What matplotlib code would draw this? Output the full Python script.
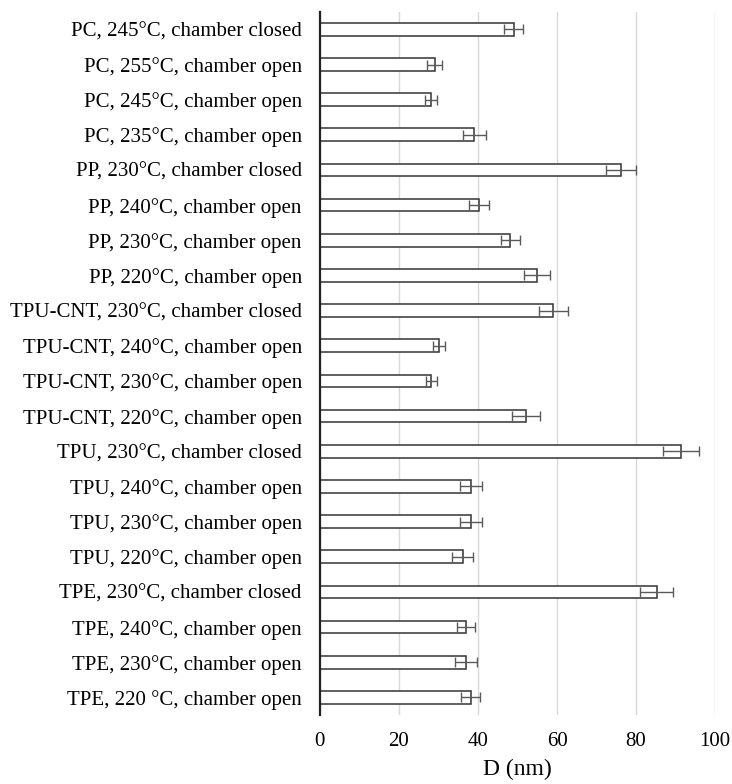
import matplotlib
matplotlib.use("Agg")
import matplotlib.pyplot as plt
import numpy as np

plt.rcParams["font.family"] = ["Liberation Serif", "DejaVu Serif"]

# top-to-bottom as in the figure
labels = [
    "PC, 245°C, chamber closed",
    "PC, 255°C, chamber open",
    "PC, 245°C, chamber open",
    "PC, 235°C, chamber open",
    "PP, 230°C, chamber closed",
    "PP, 240°C, chamber open",
    "PP, 230°C, chamber open",
    "PP, 220°C, chamber open",
    "TPU-CNT, 230°C, chamber closed",
    "TPU-CNT, 240°C, chamber open",
    "TPU-CNT, 230°C, chamber open",
    "TPU-CNT, 220°C, chamber open",
    "TPU, 230°C, chamber closed",
    "TPU, 240°C, chamber open",
    "TPU, 230°C, chamber open",
    "TPU, 220°C, chamber open",
    "TPE, 230°C, chamber closed",
    "TPE, 240°C, chamber open",
    "TPE, 230°C, chamber open",
    "TPE, 220 °C, chamber open",
]
diam = [49.0, 29.0, 28.1, 39.1, 76.1, 40.2, 48.1, 55.0, 59.1, 30.1,
        28.2, 52.2, 91.3, 38.2, 38.2, 36.1, 85.2, 37.0, 37.0, 38.2]
err = [2.5, 1.8, 1.5, 2.8, 3.8, 2.5, 2.4, 3.3, 3.6, 1.6,
       1.4, 3.6, 4.5, 2.8, 2.8, 2.7, 4.2, 2.3, 2.7, 2.4]
xticks = [0, 20, 40, 60, 80, 100]

fig = plt.figure(figsize=(7.32, 7.84), dpi=100)
ax = fig.add_axes([0.437, 0.088, 0.540, 0.897])

y = np.arange(len(labels))
ax.barh(y, diam, height=0.36, color="white", edgecolor="#333333",
        linewidth=1.1, zorder=3)
ax.errorbar(diam, y, xerr=err, fmt="none", ecolor="#5a5a5a",
            elinewidth=1.0, capsize=3.5, capthick=1.0, zorder=4)

ax.set_ylim(len(labels) - 0.5, -0.5)
ax.set_yticks(y)
ax.set_yticklabels(labels, fontsize=15)
ax.set_xlim(0, 100)
ax.set_xticks(xticks)
ax.set_xticklabels([str(t) for t in xticks], fontsize=15)
ax.set_xlabel("D (nm)", fontsize=17, labelpad=6)

ax.tick_params(axis="y", length=0, pad=13)
ax.tick_params(axis="x", length=0, pad=12)
ax.xaxis.grid(True, color="#d9d9d9", linewidth=1.0, zorder=0)
ax.set_axisbelow(True)
for s in ["top", "right", "bottom"]:
    ax.spines[s].set_visible(False)
ax.spines["left"].set_color("#222222")
ax.spines["left"].set_linewidth(1.6)
ax.spines["left"].set_zorder(5)

fig.savefig("out.png", dpi=100, facecolor="white")
